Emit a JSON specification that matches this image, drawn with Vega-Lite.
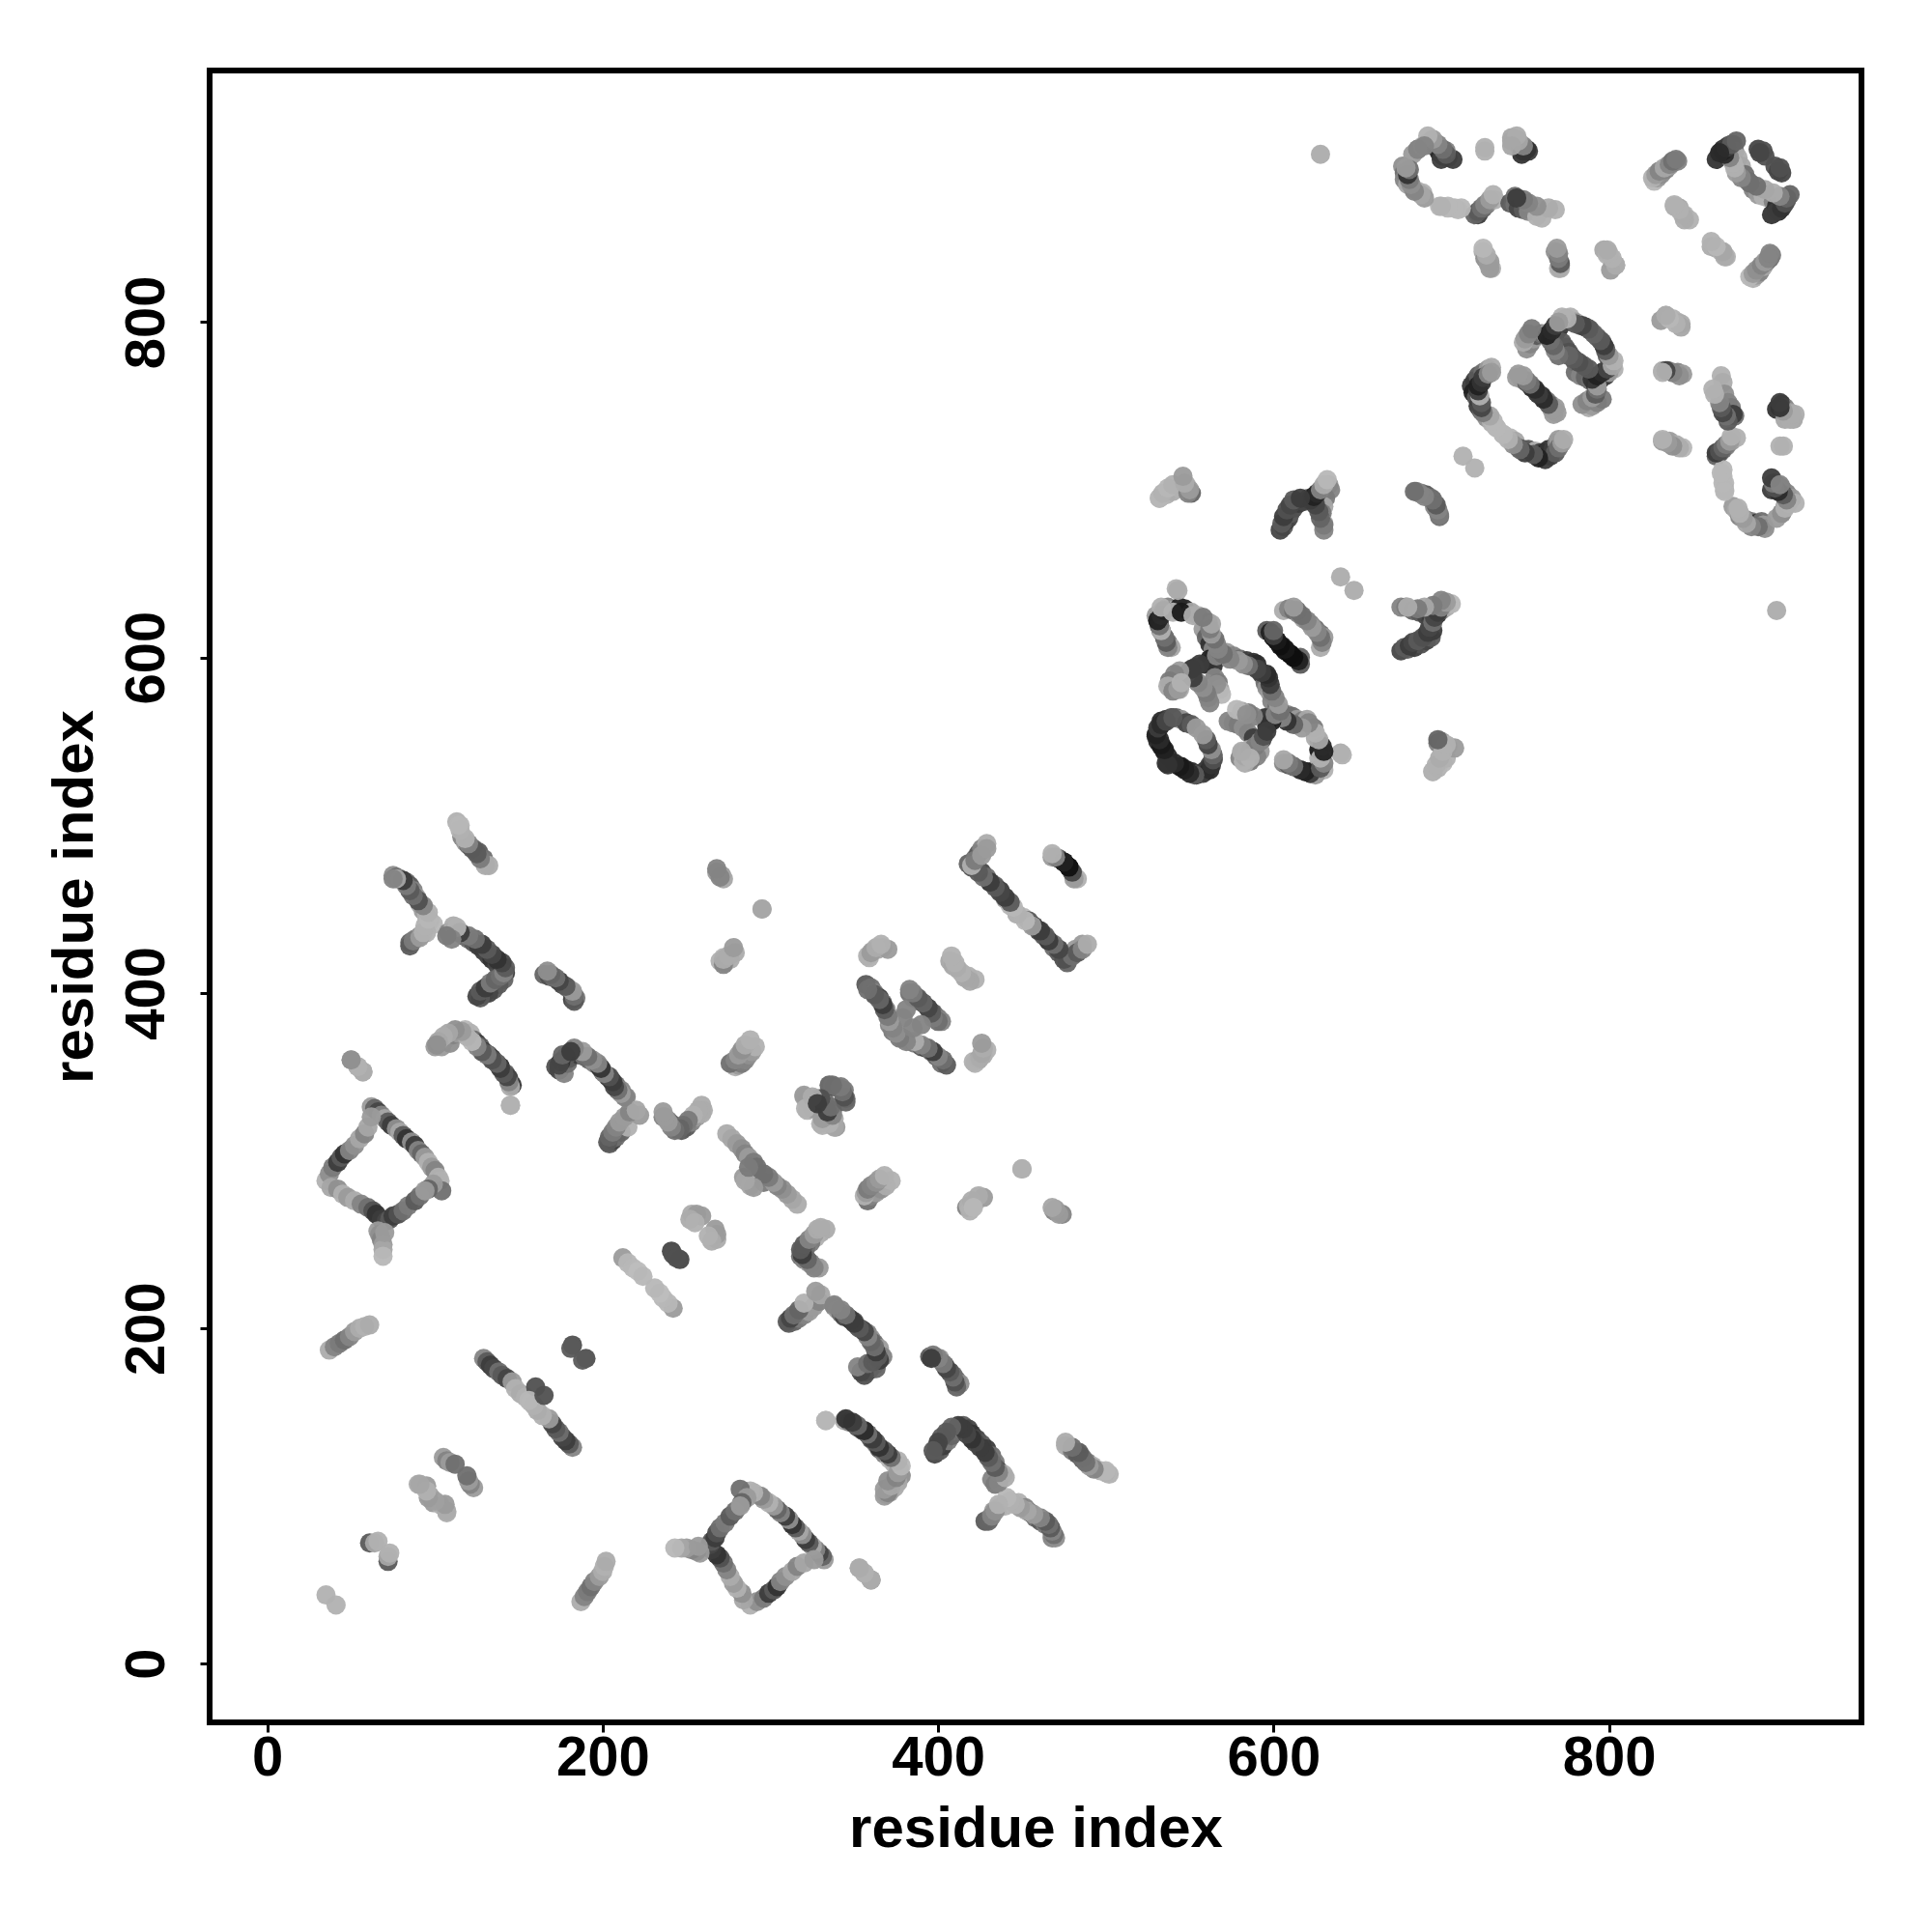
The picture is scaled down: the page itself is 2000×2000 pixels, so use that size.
{"$schema":"https://vega.github.io/schema/vega-lite/v6.json","width":1710,"height":1710,"autosize":"none","padding":{"left":217,"top":73,"right":73,"bottom":217},"background":"white","config":{"view":{"stroke":"black","strokeWidth":6},"font":"Liberation Sans"},
"data":{"values":[
{"a":35,"b":41,"g":170},{"a":61,"b":72,"g":90},{"a":64,"b":72,"g":160},{"a":66,"b":73,"g":170},
{"a":105,"b":123,"g":150},{"a":107,"b":121,"g":130},{"a":109,"b":120,"g":150},{"a":112,"b":119,"g":110},{"a":90,"b":107,"g":165},{"a":95,"b":106,"g":150},{"a":97,"b":100,"g":155},{"a":99,"b":96,"g":150},{"a":103,"b":95,"g":170},{"a":107,"b":91,"g":160},
{"a":37,"b":187,"g":165},{"a":40,"b":189,"g":130},{"a":43,"b":191,"g":120},{"a":46,"b":193,"g":110},{"a":49,"b":195,"g":130},{"a":52,"b":198,"g":150},{"a":55,"b":200,"g":165},{"a":58,"b":201,"g":170},{"a":61,"b":202,"g":165},
{"a":62,"b":332,"g":150},{"a":64,"b":331,"g":100},{"a":66,"b":329,"g":70},{"a":68,"b":327,"g":130},{"a":70,"b":325,"g":160},{"a":72,"b":323,"g":90},{"a":74,"b":321,"g":60},{"a":77,"b":319,"g":140},{"a":79,"b":317,"g":160},{"a":81,"b":315,"g":90},{"a":83,"b":313,"g":50},{"a":86,"b":311,"g":140},{"a":88,"b":309,"g":60},{"a":90,"b":306,"g":130},{"a":92,"b":304,"g":100},{"a":94,"b":302,"g":150},{"a":96,"b":299,"g":170},{"a":98,"b":296,"g":150},{"a":100,"b":294,"g":130},{"a":102,"b":290,"g":170},{"a":103,"b":288,"g":170},{"a":104,"b":282,"g":110},{"a":99,"b":286,"g":150},{"a":96,"b":283,"g":100},
{"a":35,"b":288,"g":170},{"a":37,"b":292,"g":140},{"a":39,"b":296,"g":120},{"a":42,"b":299,"g":60},{"a":44,"b":302,"g":90},{"a":46,"b":304,"g":50},{"a":49,"b":306,"g":130},{"a":52,"b":309,"g":140},{"a":55,"b":313,"g":160},{"a":58,"b":316,"g":130},{"a":60,"b":320,"g":160},{"a":62,"b":326,"g":150},
{"a":38,"b":284,"g":160},{"a":42,"b":283,"g":140},{"a":45,"b":280,"g":170},{"a":48,"b":278,"g":150},{"a":52,"b":276,"g":165},{"a":56,"b":274,"g":130},{"a":60,"b":272,"g":110},{"a":63,"b":270,"g":80},{"a":65,"b":268,"g":50},{"a":68,"b":265,"g":60},{"a":71,"b":264,"g":70},{"a":73,"b":265,"g":90},{"a":75,"b":267,"g":60},{"a":78,"b":268,"g":80},{"a":81,"b":270,"g":110},{"a":84,"b":273,"g":120},{"a":88,"b":276,"g":90},{"a":91,"b":279,"g":110},{"a":94,"b":282,"g":150},
{"a":66,"b":258,"g":150},{"a":67,"b":256,"g":140},{"a":68,"b":253,"g":130},{"a":69,"b":250,"g":150},{"a":69,"b":247,"g":160},{"a":69,"b":243,"g":175},{"a":70,"b":257,"g":150},
{"a":129,"b":182,"g":130},{"a":131,"b":180,"g":90},{"a":133,"b":178,"g":60},{"a":135,"b":176,"g":70},{"a":138,"b":174,"g":110},{"a":140,"b":172,"g":90},{"a":143,"b":170,"g":70},{"a":146,"b":168,"g":150},{"a":148,"b":164,"g":170},{"a":151,"b":161,"g":165},{"a":154,"b":159,"g":170},{"a":157,"b":156,"g":175},{"a":160,"b":165,"g":80},{"a":182,"b":190,"g":80},{"a":181,"b":188,"g":90},
{"a":212,"b":242,"g":150},{"a":215,"b":239,"g":175},{"a":218,"b":236,"g":175},{"a":221,"b":234,"g":180},{"a":224,"b":231,"g":175},{"a":241,"b":246,"g":70},{"a":242,"b":244,"g":80},
{"a":253,"b":268,"g":165},{"a":256,"b":268,"g":150},{"a":259,"b":267,"g":150},{"a":252,"b":265,"g":165},{"a":255,"b":263,"g":170},
{"a":100,"b":368,"g":150},{"a":102,"b":370,"g":130},{"a":104,"b":368,"g":150},{"a":106,"b":372,"g":160},{"a":109,"b":370,"g":140},{"a":111,"b":375,"g":130},{"a":114,"b":376,"g":150},{"a":118,"b":378,"g":175},{"a":121,"b":376,"g":170},{"a":123,"b":372,"g":110},{"a":125,"b":370,"g":60},{"a":127,"b":368,"g":90},{"a":129,"b":365,"g":50},{"a":132,"b":363,"g":90},{"a":134,"b":361,"g":60},{"a":137,"b":358,"g":110},{"a":139,"b":356,"g":40},{"a":142,"b":352,"g":100},{"a":144,"b":349,"g":60},{"a":146,"b":345,"g":50},{"a":145,"b":333,"g":175},
{"a":50,"b":360,"g":165},{"a":54,"b":356,"g":170},{"a":57,"b":353,"g":165},
{"a":75,"b":470,"g":140},{"a":77,"b":469,"g":110},{"a":79,"b":468,"g":130},{"a":81,"b":467,"g":90},{"a":83,"b":466,"g":110},{"a":85,"b":464,"g":90},{"a":87,"b":461,"g":130},{"a":89,"b":457,"g":150},{"a":91,"b":453,"g":160},{"a":93,"b":449,"g":150},{"a":95,"b":446,"g":170},{"a":97,"b":443,"g":170},{"a":99,"b":441,"g":175},{"a":85,"b":430,"g":100},{"a":88,"b":432,"g":130},{"a":91,"b":434,"g":140},{"a":95,"b":436,"g":170},
{"a":108,"b":436,"g":130},{"a":111,"b":440,"g":165},{"a":114,"b":436,"g":130},{"a":117,"b":434,"g":90},{"a":120,"b":432,"g":110},{"a":123,"b":430,"g":90},{"a":126,"b":428,"g":60},{"a":129,"b":425,"g":60},{"a":132,"b":422,"g":70},{"a":134,"b":420,"g":50},{"a":137,"b":417,"g":70},{"a":140,"b":415,"g":60},{"a":142,"b":412,"g":60},{"a":141,"b":408,"g":100},{"a":138,"b":405,"g":90},{"a":135,"b":402,"g":90},{"a":132,"b":400,"g":70},{"a":129,"b":399,"g":70},{"a":127,"b":397,"g":90},
{"a":113,"b":502,"g":170},{"a":115,"b":500,"g":175},{"a":116,"b":493,"g":130},{"a":118,"b":490,"g":150},{"a":120,"b":488,"g":110},{"a":123,"b":486,"g":110},{"a":126,"b":484,"g":90},{"a":129,"b":480,"g":110},{"a":132,"b":476,"g":165},
{"a":165,"b":411,"g":100},{"a":168,"b":410,"g":80},{"a":171,"b":409,"g":110},{"a":174,"b":407,"g":90},{"a":176,"b":405,"g":70},{"a":179,"b":403,"g":120},{"a":182,"b":400,"g":130},{"a":184,"b":397,"g":120},{"a":182,"b":396,"g":60},
{"a":172,"b":356,"g":80},{"a":174,"b":354,"g":70},{"a":177,"b":352,"g":130},{"a":179,"b":358,"g":110},{"a":180,"b":361,"g":90},{"a":183,"b":364,"g":90},{"a":186,"b":363,"g":60},{"a":189,"b":362,"g":110},{"a":192,"b":360,"g":100},{"a":195,"b":358,"g":130},{"a":198,"b":356,"g":70},{"a":200,"b":353,"g":90},{"a":203,"b":350,"g":60},{"a":205,"b":348,"g":60},{"a":208,"b":345,"g":110},{"a":211,"b":342,"g":130},{"a":214,"b":338,"g":130},
{"a":204,"b":310,"g":90},{"a":206,"b":312,"g":70},{"a":208,"b":314,"g":110},{"a":211,"b":317,"g":100},{"a":215,"b":320,"g":170},{"a":222,"b":327,"g":150},
{"a":236,"b":326,"g":130},{"a":239,"b":324,"g":130},{"a":241,"b":322,"g":100},{"a":244,"b":319,"g":60},{"a":247,"b":318,"g":90},{"a":250,"b":320,"g":90},{"a":253,"b":323,"g":130},{"a":256,"b":326,"g":150},{"a":259,"b":328,"g":165},{"a":260,"b":330,"g":165},
{"a":274,"b":316,"g":165},{"a":277,"b":313,"g":160},{"a":280,"b":310,"g":150},{"a":283,"b":307,"g":140},{"a":285,"b":304,"g":130},{"a":287,"b":302,"g":150},{"a":290,"b":299,"g":120},{"a":292,"b":296,"g":110},{"a":284,"b":290,"g":150},{"a":288,"b":285,"g":160},{"a":296,"b":287,"g":120},
{"a":279,"b":356,"g":170},{"a":281,"b":357,"g":150},{"a":283,"b":358,"g":120},{"a":285,"b":360,"g":130},{"a":287,"b":363,"g":140},{"a":289,"b":365,"g":150},{"a":291,"b":368,"g":170},
{"a":268,"b":472,"g":150},{"a":271,"b":470,"g":150},{"a":272,"b":468,"g":160},{"a":270,"b":419,"g":170},{"a":273,"b":418,"g":170},{"a":276,"b":420,"g":165},{"a":279,"b":424,"g":165},{"a":272,"b":421,"g":175},{"a":295,"b":450,"g":170},
{"a":320,"b":338,"g":160},{"a":322,"b":335,"g":170},{"a":322,"b":330,"g":170},{"a":325,"b":331,"g":150},{"a":327,"b":337,"g":130},{"a":329,"b":334,"g":60},{"a":332,"b":336,"g":110},{"a":335,"b":345,"g":100},{"a":338,"b":344,"g":80},{"a":341,"b":343,"g":110},{"a":344,"b":342,"g":120},{"a":345,"b":337,"g":110},{"a":337,"b":330,"g":80},{"a":336,"b":322,"g":150},{"a":339,"b":320,"g":150},{"a":331,"b":321,"g":170},{"a":338,"b":325,"g":165},{"a":334,"b":328,"g":60},
{"a":358,"b":276,"g":110},{"a":360,"b":279,"g":130},{"a":363,"b":281,"g":150},{"a":366,"b":283,"g":140},{"a":369,"b":285,"g":165},{"a":372,"b":288,"g":170},
{"a":417,"b":272,"g":130},{"a":420,"b":272,"g":165},{"a":422,"b":275,"g":165},{"a":427,"b":278,"g":150},{"a":450,"b":295,"g":160},{"a":469,"b":270,"g":130},{"a":474,"b":268,"g":130},
{"a":333,"b":259,"g":165},{"a":330,"b":257,"g":165},{"a":327,"b":254,"g":170},{"a":324,"b":251,"g":120},{"a":321,"b":248,"g":110},{"a":319,"b":246,"g":100},{"a":318,"b":243,"g":110},{"a":320,"b":241,"g":130},{"a":323,"b":239,"g":150},{"a":326,"b":237,"g":150},{"a":329,"b":236,"g":150},
{"a":311,"b":203,"g":90},{"a":314,"b":204,"g":100},{"a":317,"b":206,"g":120},{"a":320,"b":208,"g":130},{"a":323,"b":210,"g":150},{"a":326,"b":213,"g":150},{"a":329,"b":216,"g":130},{"a":330,"b":220,"g":160},
{"a":338,"b":213,"g":130},{"a":340,"b":211,"g":150},{"a":342,"b":209,"g":110},{"a":344,"b":207,"g":70},{"a":347,"b":206,"g":60},{"a":350,"b":204,"g":80},{"a":352,"b":201,"g":130},{"a":355,"b":199,"g":50},{"a":358,"b":197,"g":130},{"a":360,"b":194,"g":140},{"a":362,"b":191,"g":110},{"a":365,"b":188,"g":150},{"a":367,"b":183,"g":130},{"a":362,"b":178,"g":90},{"a":359,"b":175,"g":50},{"a":357,"b":174,"g":70},{"a":363,"b":176,"g":100},{"a":365,"b":181,"g":60},
{"a":395,"b":183,"g":90},{"a":398,"b":183,"g":110},{"a":401,"b":182,"g":150},{"a":404,"b":178,"g":90},{"a":407,"b":174,"g":70},{"a":409,"b":172,"g":110},{"a":411,"b":169,"g":100},{"a":413,"b":167,"g":140},
{"a":333,"b":145,"g":170},{"a":344,"b":145,"g":165},{"a":347,"b":144,"g":130},{"a":350,"b":143,"g":70},{"a":352,"b":141,"g":90},{"a":355,"b":139,"g":60},{"a":358,"b":137,"g":100},{"a":360,"b":134,"g":80},{"a":363,"b":131,"g":120},{"a":365,"b":128,"g":90},{"a":368,"b":125,"g":130},{"a":371,"b":122,"g":175},{"a":374,"b":119,"g":170},{"a":377,"b":116,"g":150},{"a":378,"b":112,"g":140},{"a":376,"b":108,"g":160},{"a":374,"b":105,"g":165},{"a":371,"b":102,"g":160},{"a":369,"b":101,"g":140},
{"a":398,"b":125,"g":70},{"a":401,"b":127,"g":90},{"a":403,"b":130,"g":60},{"a":406,"b":133,"g":120},{"a":408,"b":136,"g":100},{"a":410,"b":139,"g":110},{"a":412,"b":141,"g":130},{"a":415,"b":142,"g":90},{"a":418,"b":140,"g":70},{"a":420,"b":137,"g":50},{"a":423,"b":134,"g":70},{"a":426,"b":131,"g":90},{"a":429,"b":128,"g":60},{"a":432,"b":124,"g":110},{"a":434,"b":120,"g":120},{"a":436,"b":115,"g":60},{"a":439,"b":113,"g":170},{"a":432,"b":110,"g":130},{"a":434,"b":107,"g":120},
{"a":428,"b":85,"g":90},{"a":431,"b":87,"g":120},{"a":433,"b":91,"g":150},{"a":436,"b":93,"g":170},{"a":440,"b":94,"g":170},{"a":444,"b":96,"g":175},{"a":448,"b":96,"g":170},{"a":452,"b":93,"g":130},{"a":455,"b":90,"g":80},{"a":458,"b":87,"g":110},{"a":461,"b":85,"g":90},{"a":464,"b":83,"g":120},{"a":467,"b":81,"g":60},{"a":468,"b":77,"g":160},{"a":468,"b":75,"g":130},
{"a":476,"b":130,"g":165},{"a":480,"b":127,"g":120},{"a":483,"b":125,"g":90},{"a":486,"b":122,"g":90},{"a":489,"b":120,"g":130},{"a":492,"b":118,"g":170},{"a":497,"b":115,"g":170},{"a":500,"b":114,"g":175},
{"a":353,"b":57,"g":165},{"a":356,"b":54,"g":170},{"a":360,"b":50,"g":140},
{"a":357,"b":405,"g":90},{"a":360,"b":403,"g":110},{"a":362,"b":400,"g":130},{"a":365,"b":397,"g":60},{"a":367,"b":394,"g":110},{"a":369,"b":390,"g":130},{"a":371,"b":386,"g":165},{"a":371,"b":381,"g":130},{"a":373,"b":377,"g":120},{"a":376,"b":375,"g":140},{"a":379,"b":373,"g":130},{"a":383,"b":371,"g":150},{"a":386,"b":370,"g":120},{"a":390,"b":368,"g":90},{"a":393,"b":367,"g":60},{"a":396,"b":365,"g":100},{"a":399,"b":362,"g":90},{"a":402,"b":358,"g":110},
{"a":383,"b":400,"g":110},{"a":385,"b":397,"g":120},{"a":388,"b":396,"g":90},{"a":391,"b":394,"g":70},{"a":394,"b":391,"g":100},{"a":397,"b":388,"g":90},{"a":400,"b":385,"g":120},{"a":402,"b":383,"g":130},{"a":381,"b":390,"g":130},{"a":379,"b":385,"g":130},
{"a":358,"b":422,"g":170},{"a":361,"b":425,"g":165},{"a":364,"b":426,"g":160},{"a":367,"b":427,"g":165},{"a":370,"b":426,"g":150},
{"a":407,"b":419,"g":160},{"a":409,"b":416,"g":160},{"a":412,"b":414,"g":170},{"a":415,"b":411,"g":165},{"a":418,"b":410,"g":170},{"a":422,"b":408,"g":170},
{"a":421,"b":359,"g":170},{"a":424,"b":360,"g":150},{"a":427,"b":363,"g":165},{"a":429,"b":366,"g":170},
{"a":418,"b":477,"g":100},{"a":420,"b":475,"g":80},{"a":422,"b":480,"g":110},{"a":424,"b":483,"g":90},{"a":426,"b":486,"g":130},{"a":429,"b":489,"g":165},{"a":426,"b":472,"g":70},{"a":429,"b":469,"g":110},{"a":431,"b":466,"g":60},{"a":434,"b":464,"g":90},{"a":437,"b":461,"g":60},{"a":440,"b":456,"g":150},{"a":443,"b":452,"g":175},{"a":447,"b":447,"g":170},{"a":451,"b":445,"g":175},{"a":454,"b":443,"g":90},{"a":457,"b":440,"g":60},{"a":460,"b":437,"g":70},{"a":463,"b":434,"g":90},{"a":466,"b":431,"g":60},{"a":469,"b":427,"g":110},{"a":472,"b":424,"g":90},{"a":476,"b":420,"g":170},{"a":479,"b":422,"g":120},{"a":482,"b":426,"g":150},{"a":486,"b":429,"g":150},
{"a":468,"b":481,"g":150},{"a":472,"b":480,"g":70},{"a":475,"b":478,"g":10},{"a":478,"b":475,"g":30},{"a":481,"b":470,"g":130},{"a":483,"b":468,"g":170},
{"a":531,"b":556,"g":70},{"a":532,"b":559,"g":60},{"a":533,"b":562,"g":40},{"a":536,"b":563,"g":50},{"a":539,"b":564,"g":80},{"a":542,"b":564,"g":100},{"a":545,"b":563,"g":140},{"a":548,"b":561,"g":70},{"a":551,"b":560,"g":90},{"a":554,"b":558,"g":150},{"a":530,"b":553,"g":90},{"a":531,"b":550,"g":40},{"a":533,"b":547,"g":30},{"a":535,"b":544,"g":20},{"a":537,"b":541,"g":40},{"a":536,"b":537,"g":50},{"a":545,"b":535,"g":30},{"a":548,"b":533,"g":20},{"a":551,"b":532,"g":40},{"a":554,"b":530,"g":30},{"a":558,"b":531,"g":60},{"a":560,"b":533,"g":40},{"a":562,"b":536,"g":70},{"a":564,"b":540,"g":90},
{"a":542,"b":641,"g":170},{"a":530,"b":625,"g":150},{"a":531,"b":622,"g":60},{"a":532,"b":619,"g":30},{"a":533,"b":616,"g":40},{"a":535,"b":612,"g":110},{"a":537,"b":609,"g":120},{"a":539,"b":606,"g":160},{"a":534,"b":628,"g":90},{"a":537,"b":630,"g":130},{"a":540,"b":628,"g":170},{"a":544,"b":630,"g":30},{"a":547,"b":629,"g":40},{"a":551,"b":627,"g":160},{"a":555,"b":625,"g":170},{"a":561,"b":621,"g":130},{"a":558,"b":617,"g":150},{"a":560,"b":612,"g":100},{"a":562,"b":608,"g":50},{"a":564,"b":605,"g":130},
{"a":559,"b":596,"g":40},{"a":562,"b":599,"g":30},{"a":564,"b":595,"g":50},{"a":566,"b":601,"g":130},{"a":568,"b":604,"g":110},{"a":572,"b":603,"g":150},{"a":576,"b":601,"g":130},{"a":580,"b":599,"g":110},{"a":584,"b":598,"g":60},{"a":588,"b":597,"g":50},{"a":590,"b":596,"g":40},
{"a":538,"b":582,"g":170},{"a":541,"b":583,"g":160},{"a":544,"b":586,"g":140},{"a":547,"b":589,"g":120},{"a":550,"b":592,"g":130},{"a":553,"b":594,"g":80},{"a":556,"b":596,"g":60},{"a":540,"b":586,"g":170},{"a":544,"b":581,"g":165},{"a":565,"b":588,"g":130},{"a":567,"b":585,"g":120},{"a":568,"b":581,"g":160},{"a":569,"b":578,"g":175},{"a":566,"b":584,"g":140},
{"a":591,"b":593,"g":60},{"a":593,"b":590,"g":70},{"a":595,"b":585,"g":110},{"a":596,"b":582,"g":140},{"a":598,"b":579,"g":150},{"a":599,"b":574,"g":130},{"a":602,"b":570,"g":110},{"a":605,"b":567,"g":130},{"a":608,"b":566,"g":130},{"a":611,"b":565,"g":110},{"a":614,"b":563,"g":150},{"a":617,"b":562,"g":120},{"a":620,"b":563,"g":160},
{"a":573,"b":562,"g":130},{"a":576,"b":561,"g":130},{"a":579,"b":560,"g":120},{"a":582,"b":558,"g":140},{"a":585,"b":555,"g":130},{"a":588,"b":552,"g":60},{"a":590,"b":548,"g":70},{"a":593,"b":551,"g":60},{"a":592,"b":544,"g":150},{"a":590,"b":541,"g":130},{"a":586,"b":538,"g":120},{"a":583,"b":537,"g":165},{"a":580,"b":540,"g":130},{"a":581,"b":543,"g":150},{"a":585,"b":545,"g":170},
{"a":606,"b":537,"g":130},{"a":609,"b":536,"g":90},{"a":612,"b":535,"g":110},{"a":616,"b":533,"g":170},{"a":619,"b":532,"g":110},{"a":622,"b":531,"g":30},{"a":625,"b":533,"g":40},{"a":628,"b":535,"g":30},{"a":630,"b":533,"g":170},{"a":627,"b":540,"g":170},{"a":627,"b":545,"g":20},{"a":625,"b":552,"g":165},{"a":624,"b":558,"g":120},{"a":640,"b":543,"g":165},
{"a":606,"b":628,"g":165},{"a":609,"b":629,"g":130},{"a":612,"b":628,"g":110},{"a":615,"b":626,"g":130},{"a":618,"b":623,"g":150},{"a":622,"b":620,"g":130},{"a":625,"b":617,"g":110},{"a":628,"b":614,"g":110},{"a":630,"b":612,"g":150},
{"a":596,"b":616,"g":90},{"a":598,"b":615,"g":30},{"a":600,"b":612,"g":10},{"a":602,"b":610,"g":10},{"a":605,"b":607,"g":20},{"a":607,"b":604,"g":10},{"a":610,"b":602,"g":20},{"a":613,"b":600,"g":60},{"a":616,"b":600,"g":100},{"a":640,"b":648,"g":165},
{"a":676,"b":630,"g":130},{"a":679,"b":630,"g":120},{"a":683,"b":628,"g":100},{"a":687,"b":627,"g":90},{"a":691,"b":625,"g":70},{"a":694,"b":622,"g":60},{"a":696,"b":624,"g":30},{"a":698,"b":626,"g":40},{"a":700,"b":628,"g":130},{"a":703,"b":630,"g":165},{"a":706,"b":632,"g":175},
{"a":676,"b":604,"g":70},{"a":680,"b":605,"g":90},{"a":684,"b":606,"g":60},{"a":688,"b":608,"g":80},{"a":691,"b":610,"g":70},{"a":694,"b":612,"g":90},{"a":695,"b":616,"g":60},
{"a":695,"b":532,"g":175},{"a":698,"b":534,"g":170},{"a":701,"b":537,"g":175},{"a":703,"b":540,"g":170},{"a":698,"b":549,"g":130},{"a":700,"b":550,"g":150},{"a":704,"b":547,"g":165},{"a":708,"b":546,"g":150},
{"a":532,"b":695,"g":170},{"a":536,"b":697,"g":170},{"a":540,"b":699,"g":165},{"a":544,"b":701,"g":170},{"a":548,"b":703,"g":170},{"a":551,"b":698,"g":100},
{"a":606,"b":678,"g":90},{"a":607,"b":681,"g":60},{"a":609,"b":683,"g":70},{"a":610,"b":686,"g":90},{"a":612,"b":689,"g":80},{"a":615,"b":692,"g":60},{"a":618,"b":693,"g":70},{"a":621,"b":695,"g":110},{"a":624,"b":696,"g":70},{"a":627,"b":698,"g":60},{"a":630,"b":700,"g":130},{"a":633,"b":703,"g":150},{"a":634,"b":700,"g":130},{"a":631,"b":695,"g":120},{"a":630,"b":690,"g":160},{"a":629,"b":686,"g":120},{"a":630,"b":680,"g":165},
{"a":685,"b":699,"g":120},{"a":688,"b":698,"g":130},{"a":691,"b":697,"g":90},{"a":694,"b":695,"g":110},{"a":696,"b":690,"g":130},{"a":698,"b":687,"g":130},{"a":699,"b":684,"g":110},{"a":713,"b":720,"g":170},
{"a":718,"b":762,"g":60},{"a":720,"b":765,"g":60},{"a":722,"b":768,"g":90},{"a":725,"b":770,"g":110},{"a":728,"b":772,"g":150},{"a":730,"b":773,"g":165},{"a":719,"b":758,"g":30},{"a":721,"b":755,"g":90},{"a":722,"b":750,"g":60},{"a":724,"b":747,"g":100},{"a":727,"b":743,"g":140},{"a":730,"b":740,"g":170},{"a":733,"b":737,"g":175},{"a":737,"b":733,"g":175},{"a":741,"b":731,"g":175},{"a":744,"b":729,"g":160},{"a":746,"b":725,"g":120},{"a":749,"b":724,"g":70},{"a":752,"b":724,"g":90},{"a":756,"b":723,"g":170},{"a":759,"b":722,"g":60},{"a":762,"b":722,"g":30},{"a":764,"b":724,"g":50},{"a":767,"b":725,"g":60},{"a":769,"b":728,"g":130},{"a":770,"b":730,"g":150},
{"a":745,"b":767,"g":150},{"a":748,"b":766,"g":150},{"a":751,"b":764,"g":90},{"a":754,"b":761,"g":40},{"a":757,"b":758,"g":60},{"a":760,"b":756,"g":40},{"a":763,"b":753,"g":110},{"a":765,"b":751,"g":120},{"a":768,"b":749,"g":150},{"a":769,"b":746,"g":150},
{"a":751,"b":784,"g":140},{"a":753,"b":787,"g":130},{"a":755,"b":790,"g":150},{"a":757,"b":792,"g":90},{"a":760,"b":793,"g":110},{"a":762,"b":793,"g":150},{"a":766,"b":790,"g":50},{"a":768,"b":793,"g":30},{"a":770,"b":796,"g":40},{"a":772,"b":799,"g":70},{"a":774,"b":802,"g":160},{"a":777,"b":803,"g":170},{"a":780,"b":800,"g":150},{"a":783,"b":798,"g":90},{"a":786,"b":797,"g":60},{"a":789,"b":795,"g":90},{"a":793,"b":791,"g":100},{"a":796,"b":788,"g":90},{"a":798,"b":784,"g":70},{"a":799,"b":780,"g":90},{"a":802,"b":775,"g":170},{"a":803,"b":772,"g":170},
{"a":772,"b":788,"g":90},{"a":774,"b":785,"g":90},{"a":776,"b":782,"g":80},{"a":778,"b":779,"g":90},{"a":780,"b":776,"g":100},{"a":780,"b":770,"g":110},{"a":783,"b":768,"g":130},{"a":786,"b":767,"g":100},{"a":789,"b":765,"g":110},{"a":792,"b":763,"g":30},{"a":795,"b":766,"g":40},{"a":798,"b":768,"g":60},{"a":800,"b":770,"g":150},{"a":788,"b":749,"g":165},{"a":790,"b":750,"g":150},{"a":793,"b":752,"g":130},{"a":796,"b":754,"g":120},
{"a":831,"b":801,"g":150},{"a":834,"b":804,"g":165},{"a":838,"b":802,"g":170},{"a":841,"b":800,"g":170},{"a":843,"b":799,"g":165},
{"a":832,"b":771,"g":165},{"a":835,"b":771,"g":90},{"a":838,"b":770,"g":120},{"a":841,"b":770,"g":130},{"a":844,"b":769,"g":150},
{"a":832,"b":729,"g":150},{"a":836,"b":729,"g":150},{"a":840,"b":727,"g":165},{"a":844,"b":725,"g":175},
{"a":867,"b":768,"g":170},{"a":868,"b":764,"g":165},{"a":869,"b":757,"g":140},{"a":871,"b":752,"g":130},{"a":873,"b":749,"g":120},{"a":875,"b":744,"g":110},{"a":874,"b":745,"g":60},
{"a":864,"b":720,"g":100},{"a":866,"b":722,"g":90},{"a":868,"b":724,"g":110},{"a":870,"b":726,"g":130},{"a":873,"b":729,"g":150},{"a":876,"b":731,"g":170},
{"a":868,"b":712,"g":175},{"a":868,"b":708,"g":175},{"a":869,"b":704,"g":175},{"a":869,"b":700,"g":170},
{"a":874,"b":690,"g":150},{"a":876,"b":688,"g":160},{"a":878,"b":684,"g":130},{"a":882,"b":682,"g":140},{"a":885,"b":681,"g":120},{"a":888,"b":680,"g":50},{"a":891,"b":681,"g":110},{"a":892,"b":679,"g":150},
{"a":897,"b":700,"g":60},{"a":900,"b":703,"g":90},{"a":903,"b":701,"g":110},{"a":906,"b":698,"g":130},{"a":909,"b":695,"g":150},{"a":911,"b":692,"g":170},{"a":905,"b":690,"g":130},{"a":903,"b":686,"g":130},
{"a":900,"b":748,"g":50},{"a":903,"b":751,"g":50},{"a":905,"b":749,"g":130},{"a":908,"b":746,"g":160},{"a":910,"b":742,"g":160},{"a":911,"b":745,"g":165},{"a":905,"b":742,"g":160},{"a":904,"b":726,"g":170},{"a":628,"b":900,"g":165},
{"a":677,"b":893,"g":140},{"a":678,"b":889,"g":110},{"a":678,"b":885,"g":130},{"a":680,"b":882,"g":160},{"a":683,"b":880,"g":150},{"a":686,"b":878,"g":170},{"a":689,"b":877,"g":170},{"a":683,"b":900,"g":150},{"a":686,"b":903,"g":140},{"a":689,"b":905,"g":170},{"a":692,"b":907,"g":170},{"a":694,"b":906,"g":130},{"a":697,"b":904,"g":90},{"a":699,"b":901,"g":40},{"a":701,"b":899,"g":80},{"a":704,"b":898,"g":120},{"a":707,"b":897,"g":60},{"a":703,"b":902,"g":130},
{"a":699,"b":869,"g":175},{"a":704,"b":868,"g":175},{"a":710,"b":867,"g":175},
{"a":722,"b":864,"g":60},{"a":723,"b":866,"g":80},{"a":725,"b":868,"g":100},{"a":727,"b":870,"g":120},{"a":729,"b":872,"g":150},{"a":732,"b":873,"g":170},{"a":726,"b":902,"g":170},
{"a":742,"b":908,"g":165},{"a":745,"b":909,"g":165},{"a":747,"b":904,"g":150},{"a":749,"b":902,"g":50},{"a":752,"b":902,"g":60},
{"a":741,"b":871,"g":90},{"a":744,"b":870,"g":110},{"a":746,"b":868,"g":70},{"a":749,"b":867,"g":90},{"a":752,"b":866,"g":130},{"a":757,"b":863,"g":170},{"a":760,"b":862,"g":170},
{"a":725,"b":842,"g":165},{"a":726,"b":838,"g":140},{"a":728,"b":835,"g":150},{"a":730,"b":832,"g":170},
{"a":768,"b":842,"g":140},{"a":770,"b":838,"g":130},{"a":771,"b":834,"g":70},{"a":770,"b":832,"g":170},
{"a":797,"b":843,"g":160},{"a":799,"b":840,"g":170},{"a":802,"b":836,"g":175},{"a":804,"b":834,"g":165},
{"a":827,"b":884,"g":175},{"a":829,"b":886,"g":150},{"a":831,"b":888,"g":140},{"a":834,"b":891,"g":130},{"a":836,"b":893,"g":150},{"a":838,"b":895,"g":130},{"a":841,"b":896,"g":130},
{"a":839,"b":869,"g":165},{"a":842,"b":868,"g":160},{"a":845,"b":864,"g":175},{"a":848,"b":861,"g":170},
{"a":861,"b":845,"g":165},{"a":864,"b":844,"g":165},{"a":867,"b":842,"g":170},{"a":870,"b":839,"g":170},
{"a":886,"b":826,"g":170},{"a":888,"b":828,"g":150},{"a":890,"b":830,"g":130},{"a":892,"b":833,"g":160},{"a":894,"b":836,"g":130},{"a":896,"b":838,"g":110},{"a":897,"b":840,"g":120},
{"a":864,"b":897,"g":50},{"a":866,"b":900,"g":60},{"a":868,"b":903,"g":50},{"a":871,"b":905,"g":80},{"a":874,"b":906,"g":100},{"a":875,"b":902,"g":130},{"a":877,"b":898,"g":165},{"a":879,"b":893,"g":160},{"a":881,"b":888,"g":110},{"a":883,"b":884,"g":110},{"a":886,"b":879,"g":130},{"a":889,"b":876,"g":150},{"a":892,"b":875,"g":170},{"a":895,"b":874,"g":170},{"a":898,"b":872,"g":130},{"a":900,"b":869,"g":40},{"a":902,"b":868,"g":30},{"a":904,"b":870,"g":60},{"a":906,"b":873,"g":90},{"a":908,"b":876,"g":100},{"a":901,"b":866,"g":40},{"a":889,"b":903,"g":70},{"a":892,"b":902,"g":80},{"a":899,"b":893,"g":80},{"a":901,"b":890,"g":70}
]},
"layer":[
{"mark":{"type":"circle","size":400,"opacity":0.95},"encoding":{
"x":{"field":"a","type":"quantitative","scale":{"domain":[-34.4,950.6],"nice":false,"zero":false},"axis":{"values":[0,200,400,600,800],"title":"residue index","grid":false,"domain":false,"tickColor":"black","tickWidth":3,"tickSize":10,"labelFont":"Liberation Sans","labelFontWeight":"bold","labelFontSize":58,"labelColor":"black","labelPadding":-2,"titleFont":"Liberation Sans","titleFontWeight":"bold","titleFontSize":60,"titleColor":"black","titleY":81}},
"y":{"field":"b","type":"quantitative","scale":{"domain":[-35,950],"nice":false,"zero":false},"axis":{"values":[0,200,400,600,800],"title":"residue index","grid":false,"domain":false,"tickColor":"black","tickWidth":3,"tickSize":10,"labelFont":"Liberation Sans","labelFontWeight":"bold","labelFontSize":58,"labelColor":"black","labelAngle":-90,"labelAlign":"center","labelBaseline":"bottom","labelPadding":26,"titleFont":"Liberation Sans","titleFontWeight":"bold","titleFontSize":60,"titleColor":"black","titleX":-109}},
"color":{"field":"g","type":"quantitative","legend":null,"scale":{"domain":[0,235],"range":["#000000","#ffffff"]}}}},
{"mark":{"type":"circle","size":400,"opacity":0.95},"encoding":{
"x":{"field":"b","type":"quantitative"},
"y":{"field":"a","type":"quantitative"},
"color":{"field":"g","type":"quantitative","legend":null}}}
]}
